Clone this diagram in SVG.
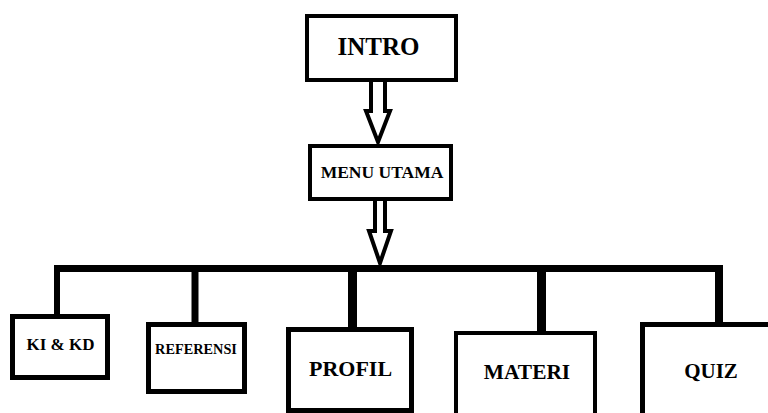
<svg xmlns="http://www.w3.org/2000/svg" width="768" height="413" viewBox="0 0 768 413">
<style>
.box{fill:#fff;stroke:#000}
.lbl{font-family:"Liberation Serif","Times New Roman",serif;font-weight:bold;fill:#000;text-anchor:middle}
.arr{fill:#fff;stroke:#000;stroke-width:4;stroke-linejoin:miter}
.bar{stroke:#000;fill:none}
</style>
<rect width="768" height="413" fill="#fff"/>
<g id="connectors">
<path class="arr" d="M371,82 L371,111 L366,111 L378,142 L390,111 L385,111 L385,82"/>
<path class="arr" d="M375,201 L375,231 L369,231 L380,263 L391,231 L385,231 L385,201"/>
<line class="bar" x1="54" y1="268.5" x2="723" y2="268.5" stroke-width="7"/>
<line class="bar" x1="57" y1="265" x2="57" y2="316" stroke-width="6"/>
<line class="bar" x1="195" y1="268" x2="195" y2="324" stroke-width="7"/>
<line class="bar" x1="352.5" y1="268" x2="352.5" y2="329" stroke-width="9"/>
<line class="bar" x1="541.5" y1="268" x2="541.5" y2="333" stroke-width="9"/>
<line class="bar" x1="719" y1="265" x2="719" y2="324" stroke-width="8"/>
</g>
<g id="intro">
<rect class="box" x="307" y="16" width="149" height="64" stroke-width="4"/>
<text class="lbl" x="378.5" y="55" font-size="25">INTRO</text>
</g>
<g id="menu-utama">
<rect class="box" x="310" y="146" width="141" height="53" stroke-width="4"/>
<text class="lbl" x="382" y="178" font-size="17.5">MENU UTAMA</text>
</g>
<g id="ki-kd">
<rect class="box" x="12.5" y="316.5" width="95" height="61" stroke-width="5"/>
<text class="lbl" x="60.5" y="350" font-size="17">KI &amp; KD</text>
</g>
<g id="referensi">
<rect class="box" x="148.5" y="324.5" width="96" height="67" stroke-width="5"/>
<text class="lbl" x="196" y="354" font-size="14.3">REFERENSI</text>
</g>
<g id="profil">
<rect class="box" x="288.5" y="329.5" width="123" height="81" stroke-width="5"/>
<text class="lbl" x="350.5" y="376" font-size="22">PROFIL</text>
</g>
<g id="materi">
<rect class="box" x="456" y="333" width="139" height="100" stroke-width="4"/>
<text class="lbl" x="527" y="379" font-size="21.4">MATERI</text>
</g>
<g id="quiz">
<rect class="box" x="642.5" y="324.5" width="200" height="200" stroke-width="5"/>
<text class="lbl" x="711" y="378" font-size="21">QUIZ</text>
</g>
</svg>
